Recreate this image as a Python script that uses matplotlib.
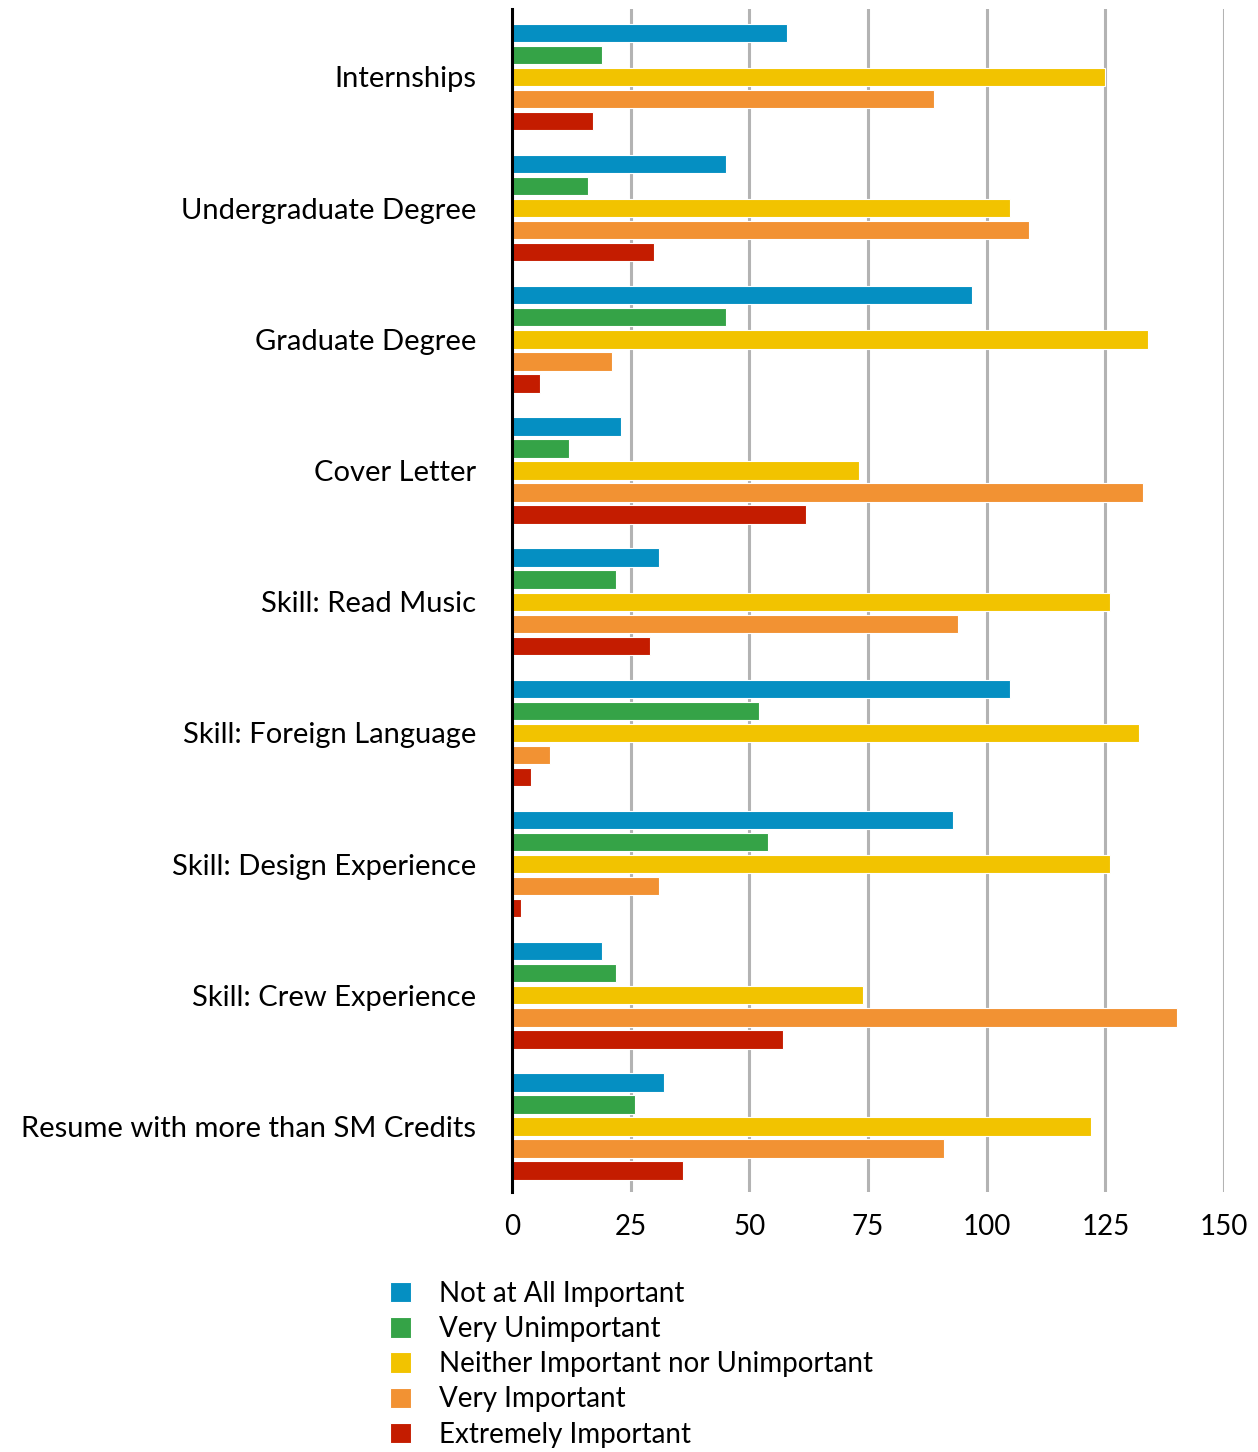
"""
Recreate the horizontal grouped bar chart of how important each
application item is rated.
"""

import matplotlib.pyplot as plt
import numpy as np

plt.rcParams["font.family"] = ["Lato", "DejaVu Sans"]

CATEGORIES = [
    "Internships",
    "Undergraduate Degree",
    "Graduate Degree",
    "Cover Letter",
    "Skill: Read Music",
    "Skill: Foreign Language",
    "Skill: Design Experience",
    "Skill: Crew Experience",
    "Resume with more than SM Credits",
]
SERIES = [
    "Not at All Important",
    "Very Unimportant",
    "Neither Important nor Unimportant",
    "Very Important",
    "Extremely Important",
]
NOT_AT_ALL = [58, 45, 97, 23, 31, 105, 93, 19, 32]
VERY_UNIMPORTANT = [19, 16, 45, 12, 22, 52, 54, 22, 26]
NEITHER = [125, 105, 134, 73, 126, 132, 126, 74, 122]
VERY_IMPORTANT = [89, 109, 21, 133, 94, 8, 31, 140, 91]
EXTREMELY = [17, 30, 6, 62, 29, 4, 2, 57, 36]
X_TICKS = [0, 25, 50, 75, 100, 125, 150]

COLORS = ["#058fc2", "#35a347", "#f2c300", "#f29233", "#c41c00"]


def main():
    fig = plt.figure(figsize=(12.58, 14.52), dpi=100)
    ax = fig.add_axes([0.407, 0.179, 0.566, 0.815])

    values = [NOT_AT_ALL, VERY_UNIMPORTANT, NEITHER, VERY_IMPORTANT, EXTREMELY]
    centers = np.arange(len(CATEGORIES))
    pitch = 0.168
    height = 0.14
    for j, (label, vals, color) in enumerate(zip(SERIES, values, COLORS)):
        ax.barh(centers + (j - 2) * pitch, vals, height=height, color=color,
                edgecolor="white", linewidth=0.8, label=label, zorder=3)

    ax.set_xlim(0, 150)
    ax.set_ylim(len(CATEGORIES) - 0.5, -0.52)
    ax.set_xticks(X_TICKS)
    ax.set_yticks(centers)
    ax.set_yticklabels(CATEGORIES, fontsize=21)
    ax.tick_params(axis="y", length=0, pad=26)
    ax.tick_params(axis="x", length=0, pad=16, labelsize=20)
    ax.grid(axis="x", color="#b3b3b3", linewidth=2.2, zorder=0)
    for side in ["top", "right", "bottom"]:
        ax.spines[side].set_visible(False)
    ax.spines["left"].set_linewidth(2.2)
    ax.spines["left"].set_zorder(4)

    handles, labels = ax.get_legend_handles_labels()
    fig.legend(handles, labels, loc="upper left",
               bbox_to_anchor=(0.310, 1 - 1281 / 1452), frameon=False,
               fontsize=20, handlelength=0.75, handleheight=0.75,
               handletextpad=1.0, labelspacing=0.33, borderpad=0,
               borderaxespad=0)

    fig.savefig("out.png", dpi=100)
    plt.close(fig)


if __name__ == "__main__":
    main()
